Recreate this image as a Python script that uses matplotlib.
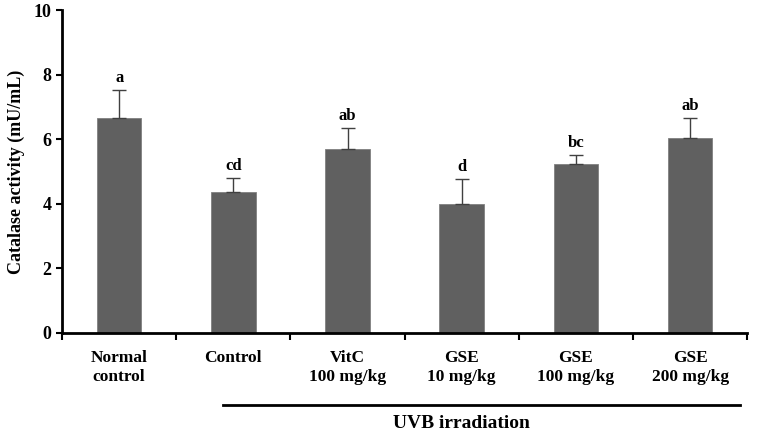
import numpy as np
import matplotlib.pyplot as plt
from matplotlib.lines import Line2D

# Datos
grupos = ["Normal\ncontrol", "Control", "VitC\n100 mg/kg", "GSE\n10 mg/kg",
          "GSE\n100 mg/kg", "GSE\n200 mg/kg"]
medias = [6.65, 4.37, 5.70, 3.98, 5.22, 6.04]
errores = [0.88, 0.43, 0.65, 0.79, 0.30, 0.62]
letras = ["a", "cd", "ab", "d", "bc", "ab"]

plt.rcParams['font.family'] = ['Liberation Serif', 'DejaVu Serif']
plt.rcParams['font.weight'] = 'bold'

fig = plt.figure(figsize=(7.57, 4.37), dpi=100)
ax = fig.add_axes([0.082, 0.238, 0.905, 0.739])

x = np.arange(len(grupos))
ax.bar(x, medias, width=0.39, color='#606060', edgecolor='#808080', linewidth=0.6, zorder=2)
ax.errorbar(x, medias, yerr=[np.zeros(len(errores)), errores], fmt='none',
            ecolor='#404040', elinewidth=1.0, capsize=5, capthick=1.0, zorder=3)

for xi, m, e, l in zip(x, medias, errores, letras):
    ax.text(xi, m + e + 0.12, l, ha='center', va='bottom', fontsize=12, fontweight='bold')

ax.set_xlim(-0.5, len(grupos) - 0.5)
ax.set_ylim(0, 10)
ax.set_yticks([0, 2, 4, 6, 8, 10])
ax.tick_params(axis='y', labelsize=13, width=1.5, length=4, direction='out')
ax.set_xticks(x)
ax.set_xticklabels(grupos, fontsize=12.5, fontweight='bold', linespacing=1.25)
ax.tick_params(axis='x', which='major', length=0, pad=12)
ax.set_xticks(np.arange(len(grupos) + 1) - 0.5, minor=True)
ax.tick_params(axis='x', which='minor', length=5, width=1.5, direction='out')
for lbl in ax.get_yticklabels():
    lbl.set_fontweight('bold')

ax.set_ylabel("Catalase activity (mU/mL)", fontsize=13, fontweight='bold', labelpad=6)

for lado in ['top', 'right']:
    ax.spines[lado].set_visible(False)
for lado in ['left', 'bottom']:
    ax.spines[lado].set_linewidth(2)

# Línea de irradiación UVB
fig.add_artist(Line2D([0.295, 0.978], [0.073, 0.073], color='black', linewidth=2))
fig.text(0.61, 0.030, "UVB irradiation", ha='center', va='center', fontsize=14, fontweight='bold')

fig.savefig("out.png", dpi=100)
